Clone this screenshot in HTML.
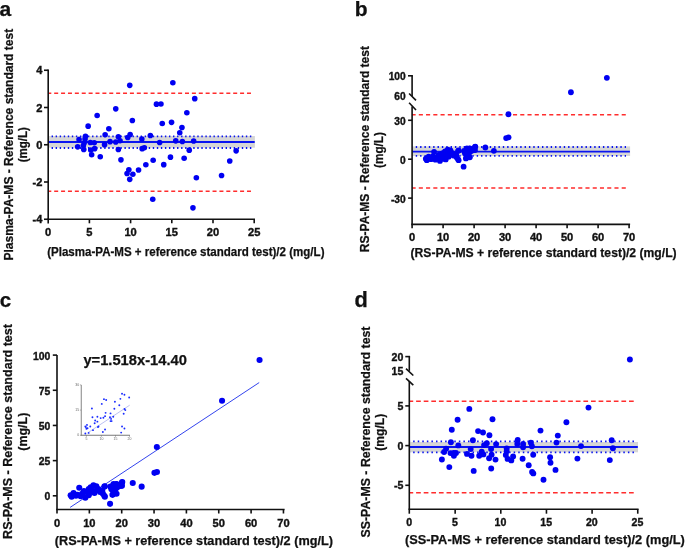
<!DOCTYPE html>
<html><head><meta charset="utf-8"><style>
html,body{margin:0;padding:0;background:#fff;width:685px;height:548px;overflow:hidden}
svg{display:block;will-change:transform}
text{font-family:"Liberation Sans", sans-serif}
</style></head><body>
<svg width="685" height="548" viewBox="0 0 685 548">
<rect width="685" height="548" fill="#fff"/>
<text x="-0.40" y="15.70" font-size="21" font-weight="bold" text-anchor="start" fill="#111" stroke="#111" stroke-width="0.25">a</text>
<text x="12.90" y="144.70" font-size="12.8" font-weight="bold" text-anchor="middle" fill="#111" stroke="#111" stroke-width="0.25" textLength="231.80" lengthAdjust="spacingAndGlyphs" transform="rotate(-90 12.90 144.70)">Plasma-PA-MS - Reference standard test</text>
<text x="26.60" y="144.70" font-size="12.8" font-weight="bold" text-anchor="middle" fill="#111" stroke="#111" stroke-width="0.25" textLength="35.20" lengthAdjust="spacingAndGlyphs" transform="rotate(-90 26.60 144.70)">(mg/L)</text>
<rect x="48.20" y="136.00" width="206.70" height="11.70" fill="#d6d6d6"/>
<line x1="48.20" y1="142.00" x2="254.70" y2="142.00" stroke="#0a14f0" stroke-width="2" stroke-linecap="butt"/>
<line x1="48.70" y1="136.30" x2="251.50" y2="136.30" stroke="#0a14f0" stroke-width="1.8" stroke-dasharray="1.4 2.647" stroke-dashoffset="1.15" stroke-linecap="butt"/>
<line x1="48.70" y1="148.00" x2="251.50" y2="148.00" stroke="#0a14f0" stroke-width="1.8" stroke-dasharray="1.4 2.647" stroke-dashoffset="1.15" stroke-linecap="butt"/>
<line x1="48.20" y1="93.30" x2="251.50" y2="93.30" stroke="#ff2d2d" stroke-width="1.6" stroke-dasharray="4 2.885" stroke-dashoffset="0.9" stroke-linecap="butt"/>
<line x1="48.20" y1="191.20" x2="251.50" y2="191.20" stroke="#ff2d2d" stroke-width="1.6" stroke-dasharray="4 2.885" stroke-dashoffset="0.9" stroke-linecap="butt"/>
<line x1="48.20" y1="69.50" x2="48.20" y2="223.50" stroke="#111" stroke-width="1.6" stroke-linecap="butt"/>
<line x1="47.40" y1="219.30" x2="255.00" y2="219.30" stroke="#111" stroke-width="1.6" stroke-linecap="butt"/>
<line x1="44.00" y1="70.25" x2="48.20" y2="70.25" stroke="#111" stroke-width="1.6" stroke-linecap="butt"/>
<text x="42.50" y="74.25" font-size="10.2" font-weight="bold" text-anchor="end" fill="#111" stroke="#111" stroke-width="0.35" textLength="6.18" lengthAdjust="spacingAndGlyphs">4</text>
<line x1="44.00" y1="107.50" x2="48.20" y2="107.50" stroke="#111" stroke-width="1.6" stroke-linecap="butt"/>
<text x="42.50" y="111.50" font-size="10.2" font-weight="bold" text-anchor="end" fill="#111" stroke="#111" stroke-width="0.35" textLength="6.18" lengthAdjust="spacingAndGlyphs">2</text>
<line x1="44.00" y1="144.75" x2="48.20" y2="144.75" stroke="#111" stroke-width="1.6" stroke-linecap="butt"/>
<text x="42.50" y="148.75" font-size="10.2" font-weight="bold" text-anchor="end" fill="#111" stroke="#111" stroke-width="0.35" textLength="6.18" lengthAdjust="spacingAndGlyphs">0</text>
<line x1="44.00" y1="182.00" x2="48.20" y2="182.00" stroke="#111" stroke-width="1.6" stroke-linecap="butt"/>
<text x="42.50" y="186.00" font-size="10.2" font-weight="bold" text-anchor="end" fill="#111" stroke="#111" stroke-width="0.35" textLength="9.88" lengthAdjust="spacingAndGlyphs">-2</text>
<line x1="44.00" y1="219.25" x2="48.20" y2="219.25" stroke="#111" stroke-width="1.6" stroke-linecap="butt"/>
<text x="42.50" y="223.25" font-size="10.2" font-weight="bold" text-anchor="end" fill="#111" stroke="#111" stroke-width="0.35" textLength="9.88" lengthAdjust="spacingAndGlyphs">-4</text>
<line x1="89.40" y1="219.30" x2="89.40" y2="223.30" stroke="#111" stroke-width="1.6" stroke-linecap="butt"/>
<line x1="130.60" y1="219.30" x2="130.60" y2="223.30" stroke="#111" stroke-width="1.6" stroke-linecap="butt"/>
<line x1="171.80" y1="219.30" x2="171.80" y2="223.30" stroke="#111" stroke-width="1.6" stroke-linecap="butt"/>
<line x1="213.00" y1="219.30" x2="213.00" y2="223.30" stroke="#111" stroke-width="1.6" stroke-linecap="butt"/>
<line x1="254.20" y1="219.30" x2="254.20" y2="223.30" stroke="#111" stroke-width="1.6" stroke-linecap="butt"/>
<text x="48.20" y="235.90" font-size="10.2" font-weight="bold" text-anchor="middle" fill="#111" stroke="#111" stroke-width="0.35" textLength="6.18" lengthAdjust="spacingAndGlyphs">0</text>
<text x="89.40" y="235.90" font-size="10.2" font-weight="bold" text-anchor="middle" fill="#111" stroke="#111" stroke-width="0.35" textLength="6.18" lengthAdjust="spacingAndGlyphs">5</text>
<text x="130.60" y="235.90" font-size="10.2" font-weight="bold" text-anchor="middle" fill="#111" stroke="#111" stroke-width="0.35" textLength="12.36" lengthAdjust="spacingAndGlyphs">10</text>
<text x="171.80" y="235.90" font-size="10.2" font-weight="bold" text-anchor="middle" fill="#111" stroke="#111" stroke-width="0.35" textLength="12.36" lengthAdjust="spacingAndGlyphs">15</text>
<text x="213.00" y="235.90" font-size="10.2" font-weight="bold" text-anchor="middle" fill="#111" stroke="#111" stroke-width="0.35" textLength="12.36" lengthAdjust="spacingAndGlyphs">20</text>
<text x="254.20" y="235.90" font-size="10.2" font-weight="bold" text-anchor="middle" fill="#111" stroke="#111" stroke-width="0.35" textLength="12.36" lengthAdjust="spacingAndGlyphs">25</text>
<text x="47.20" y="256.40" font-size="12.3" font-weight="bold" text-anchor="start" fill="#111" stroke="#111" stroke-width="0.25" textLength="277.30" lengthAdjust="spacingAndGlyphs">(Plasma-PA-MS + reference standard test)/2 (mg/L)</text>
<circle cx="129.75" cy="85.35" r="2.8" fill="#0000f2"/>
<circle cx="115.75" cy="108.85" r="2.8" fill="#0000f2"/>
<circle cx="97.15" cy="115.45" r="2.8" fill="#0000f2"/>
<circle cx="132.35" cy="120.55" r="2.8" fill="#0000f2"/>
<circle cx="88.15" cy="126.15" r="2.8" fill="#0000f2"/>
<circle cx="108.85" cy="128.75" r="2.8" fill="#0000f2"/>
<circle cx="105.15" cy="134.75" r="2.8" fill="#0000f2"/>
<circle cx="130.15" cy="134.45" r="2.8" fill="#0000f2"/>
<circle cx="127.75" cy="137.55" r="2.8" fill="#0000f2"/>
<circle cx="118.35" cy="136.75" r="2.8" fill="#0000f2"/>
<circle cx="85.45" cy="136.35" r="2.8" fill="#0000f2"/>
<circle cx="79.05" cy="139.55" r="2.8" fill="#0000f2"/>
<circle cx="85.05" cy="138.95" r="2.8" fill="#0000f2"/>
<circle cx="84.15" cy="142.95" r="2.8" fill="#0000f2"/>
<circle cx="90.35" cy="142.45" r="2.8" fill="#0000f2"/>
<circle cx="94.25" cy="142.75" r="2.8" fill="#0000f2"/>
<circle cx="104.55" cy="144.65" r="2.8" fill="#0000f2"/>
<circle cx="110.05" cy="141.65" r="2.8" fill="#0000f2"/>
<circle cx="115.75" cy="142.05" r="2.8" fill="#0000f2"/>
<circle cx="120.05" cy="140.75" r="2.8" fill="#0000f2"/>
<circle cx="77.65" cy="146.85" r="2.8" fill="#0000f2"/>
<circle cx="83.35" cy="145.55" r="2.8" fill="#0000f2"/>
<circle cx="83.75" cy="149.45" r="2.8" fill="#0000f2"/>
<circle cx="90.75" cy="149.95" r="2.8" fill="#0000f2"/>
<circle cx="94.65" cy="148.65" r="2.8" fill="#0000f2"/>
<circle cx="91.65" cy="154.75" r="2.8" fill="#0000f2"/>
<circle cx="100.25" cy="156.75" r="2.8" fill="#0000f2"/>
<circle cx="118.35" cy="149.45" r="2.8" fill="#0000f2"/>
<circle cx="120.95" cy="159.85" r="2.8" fill="#0000f2"/>
<circle cx="172.85" cy="82.75" r="2.8" fill="#0000f2"/>
<circle cx="194.75" cy="98.65" r="2.8" fill="#0000f2"/>
<circle cx="156.45" cy="104.15" r="2.8" fill="#0000f2"/>
<circle cx="160.95" cy="103.95" r="2.8" fill="#0000f2"/>
<circle cx="186.85" cy="112.75" r="2.8" fill="#0000f2"/>
<circle cx="162.25" cy="123.45" r="2.8" fill="#0000f2"/>
<circle cx="171.55" cy="122.35" r="2.8" fill="#0000f2"/>
<circle cx="181.95" cy="127.45" r="2.8" fill="#0000f2"/>
<circle cx="179.75" cy="132.75" r="2.8" fill="#0000f2"/>
<circle cx="150.35" cy="135.55" r="2.8" fill="#0000f2"/>
<circle cx="141.85" cy="138.95" r="2.8" fill="#0000f2"/>
<circle cx="159.65" cy="142.45" r="2.8" fill="#0000f2"/>
<circle cx="175.75" cy="140.85" r="2.8" fill="#0000f2"/>
<circle cx="182.35" cy="141.55" r="2.8" fill="#0000f2"/>
<circle cx="193.65" cy="140.95" r="2.8" fill="#0000f2"/>
<circle cx="142.15" cy="148.65" r="2.8" fill="#0000f2"/>
<circle cx="144.35" cy="147.75" r="2.8" fill="#0000f2"/>
<circle cx="189.25" cy="150.15" r="2.8" fill="#0000f2"/>
<circle cx="236.15" cy="150.85" r="2.8" fill="#0000f2"/>
<circle cx="128.85" cy="169.75" r="2.8" fill="#0000f2"/>
<circle cx="127.05" cy="173.55" r="2.8" fill="#0000f2"/>
<circle cx="132.85" cy="174.25" r="2.8" fill="#0000f2"/>
<circle cx="129.75" cy="179.35" r="2.8" fill="#0000f2"/>
<circle cx="138.55" cy="170.05" r="2.8" fill="#0000f2"/>
<circle cx="145.85" cy="164.75" r="2.8" fill="#0000f2"/>
<circle cx="153.15" cy="160.25" r="2.8" fill="#0000f2"/>
<circle cx="163.75" cy="164.65" r="2.8" fill="#0000f2"/>
<circle cx="170.45" cy="157.15" r="2.8" fill="#0000f2"/>
<circle cx="184.15" cy="158.25" r="2.8" fill="#0000f2"/>
<circle cx="196.35" cy="177.75" r="2.8" fill="#0000f2"/>
<circle cx="221.55" cy="175.55" r="2.8" fill="#0000f2"/>
<circle cx="229.75" cy="160.95" r="2.8" fill="#0000f2"/>
<circle cx="152.75" cy="199.25" r="2.8" fill="#0000f2"/>
<circle cx="192.95" cy="207.85" r="2.8" fill="#0000f2"/>
<text x="354.80" y="15.60" font-size="21" font-weight="bold" text-anchor="start" fill="#111" stroke="#111" stroke-width="0.25">b</text>
<text x="368.60" y="149.10" font-size="12.9" font-weight="bold" text-anchor="middle" fill="#111" stroke="#111" stroke-width="0.25" textLength="206.20" lengthAdjust="spacingAndGlyphs" transform="rotate(-90 368.60 149.10)">RS-PA-MS - Reference standard test</text>
<text x="383.00" y="150.00" font-size="12.9" font-weight="bold" text-anchor="middle" fill="#111" stroke="#111" stroke-width="0.25" textLength="36.00" lengthAdjust="spacingAndGlyphs" transform="rotate(-90 383.00 150.00)">(mg/L)</text>
<rect x="412.10" y="146.40" width="218.00" height="9.60" fill="#d6d6d6"/>
<line x1="412.10" y1="151.60" x2="629.90" y2="151.60" stroke="#0a14f0" stroke-width="1.8" stroke-linecap="butt"/>
<line x1="412.60" y1="147.00" x2="626.00" y2="147.00" stroke="#0a14f0" stroke-width="1.8" stroke-dasharray="1.4 2.953" stroke-dashoffset="1.2" stroke-linecap="butt"/>
<line x1="412.60" y1="155.90" x2="626.00" y2="155.90" stroke="#0a14f0" stroke-width="1.8" stroke-dasharray="1.4 2.953" stroke-dashoffset="1.2" stroke-linecap="butt"/>
<line x1="412.10" y1="114.80" x2="626.20" y2="114.80" stroke="#ff2d2d" stroke-width="1.6" stroke-dasharray="4.1 3.146" stroke-dashoffset="0.55" stroke-linecap="butt"/>
<line x1="412.10" y1="188.00" x2="626.20" y2="188.00" stroke="#ff2d2d" stroke-width="1.6" stroke-dasharray="4.1 3.146" stroke-dashoffset="0.55" stroke-linecap="butt"/>
<line x1="412.10" y1="75.80" x2="412.10" y2="96.00" stroke="#111" stroke-width="1.6" stroke-linecap="butt"/>
<line x1="409.10" y1="93.50" x2="416.00" y2="100.40" stroke="#111" stroke-width="1.6" stroke-linecap="butt"/>
<line x1="409.10" y1="102.70" x2="416.00" y2="110.00" stroke="#111" stroke-width="1.6" stroke-linecap="butt"/>
<line x1="412.10" y1="106.50" x2="412.10" y2="228.20" stroke="#111" stroke-width="1.6" stroke-linecap="butt"/>
<line x1="408.00" y1="75.80" x2="412.90" y2="75.80" stroke="#111" stroke-width="1.6" stroke-linecap="butt"/>
<line x1="408.10" y1="120.29" x2="412.10" y2="120.29" stroke="#111" stroke-width="1.6" stroke-linecap="butt"/>
<line x1="408.10" y1="159.20" x2="412.10" y2="159.20" stroke="#111" stroke-width="1.6" stroke-linecap="butt"/>
<line x1="408.10" y1="198.11" x2="412.10" y2="198.11" stroke="#111" stroke-width="1.6" stroke-linecap="butt"/>
<line x1="411.30" y1="224.40" x2="630.10" y2="224.40" stroke="#111" stroke-width="1.6" stroke-linecap="butt"/>
<line x1="443.10" y1="224.40" x2="443.10" y2="228.20" stroke="#111" stroke-width="1.6" stroke-linecap="butt"/>
<line x1="474.10" y1="224.40" x2="474.10" y2="228.20" stroke="#111" stroke-width="1.6" stroke-linecap="butt"/>
<line x1="505.10" y1="224.40" x2="505.10" y2="228.20" stroke="#111" stroke-width="1.6" stroke-linecap="butt"/>
<line x1="536.10" y1="224.40" x2="536.10" y2="228.20" stroke="#111" stroke-width="1.6" stroke-linecap="butt"/>
<line x1="567.10" y1="224.40" x2="567.10" y2="228.20" stroke="#111" stroke-width="1.6" stroke-linecap="butt"/>
<line x1="598.10" y1="224.40" x2="598.10" y2="228.20" stroke="#111" stroke-width="1.6" stroke-linecap="butt"/>
<line x1="629.10" y1="224.40" x2="629.10" y2="228.20" stroke="#111" stroke-width="1.6" stroke-linecap="butt"/>
<text x="405.70" y="80.20" font-size="10.2" font-weight="bold" text-anchor="end" fill="#111" stroke="#111" stroke-width="0.35" textLength="17.01" lengthAdjust="spacingAndGlyphs">100</text>
<text x="405.70" y="99.50" font-size="10.2" font-weight="bold" text-anchor="end" fill="#111" stroke="#111" stroke-width="0.35" textLength="11.34" lengthAdjust="spacingAndGlyphs">60</text>
<text x="405.70" y="124.79" font-size="10.2" font-weight="bold" text-anchor="end" fill="#111" stroke="#111" stroke-width="0.35" textLength="11.34" lengthAdjust="spacingAndGlyphs">30</text>
<text x="405.70" y="163.70" font-size="10.2" font-weight="bold" text-anchor="end" fill="#111" stroke="#111" stroke-width="0.35" textLength="5.67" lengthAdjust="spacingAndGlyphs">0</text>
<text x="405.70" y="202.61" font-size="10.2" font-weight="bold" text-anchor="end" fill="#111" stroke="#111" stroke-width="0.35" textLength="14.74" lengthAdjust="spacingAndGlyphs">-30</text>
<text x="412.10" y="240.80" font-size="10.2" font-weight="bold" text-anchor="middle" fill="#111" stroke="#111" stroke-width="0.35" textLength="6.18" lengthAdjust="spacingAndGlyphs">0</text>
<text x="443.10" y="240.80" font-size="10.2" font-weight="bold" text-anchor="middle" fill="#111" stroke="#111" stroke-width="0.35" textLength="12.36" lengthAdjust="spacingAndGlyphs">10</text>
<text x="474.10" y="240.80" font-size="10.2" font-weight="bold" text-anchor="middle" fill="#111" stroke="#111" stroke-width="0.35" textLength="12.36" lengthAdjust="spacingAndGlyphs">20</text>
<text x="505.10" y="240.80" font-size="10.2" font-weight="bold" text-anchor="middle" fill="#111" stroke="#111" stroke-width="0.35" textLength="12.36" lengthAdjust="spacingAndGlyphs">30</text>
<text x="536.10" y="240.80" font-size="10.2" font-weight="bold" text-anchor="middle" fill="#111" stroke="#111" stroke-width="0.35" textLength="12.36" lengthAdjust="spacingAndGlyphs">40</text>
<text x="567.10" y="240.80" font-size="10.2" font-weight="bold" text-anchor="middle" fill="#111" stroke="#111" stroke-width="0.35" textLength="12.36" lengthAdjust="spacingAndGlyphs">50</text>
<text x="598.10" y="240.80" font-size="10.2" font-weight="bold" text-anchor="middle" fill="#111" stroke="#111" stroke-width="0.35" textLength="12.36" lengthAdjust="spacingAndGlyphs">60</text>
<text x="629.10" y="240.80" font-size="10.2" font-weight="bold" text-anchor="middle" fill="#111" stroke="#111" stroke-width="0.35" textLength="12.36" lengthAdjust="spacingAndGlyphs">70</text>
<text x="410.50" y="257.00" font-size="12.5" font-weight="bold" text-anchor="start" fill="#111" stroke="#111" stroke-width="0.25" textLength="266.10" lengthAdjust="spacingAndGlyphs">(RS-PA-MS + reference standard test)/2 (mg/L)</text>
<circle cx="425.84" cy="158.75" r="2.9" fill="#0000f2"/>
<circle cx="428.62" cy="156.63" r="2.9" fill="#0000f2"/>
<circle cx="426.80" cy="160.14" r="2.9" fill="#0000f2"/>
<circle cx="430.92" cy="159.22" r="2.9" fill="#0000f2"/>
<circle cx="434.08" cy="151.84" r="2.9" fill="#0000f2"/>
<circle cx="435.42" cy="159.68" r="2.9" fill="#0000f2"/>
<circle cx="438.59" cy="154.88" r="2.9" fill="#0000f2"/>
<circle cx="439.93" cy="160.97" r="2.9" fill="#0000f2"/>
<circle cx="443.19" cy="158.75" r="2.9" fill="#0000f2"/>
<circle cx="445.01" cy="151.38" r="2.9" fill="#0000f2"/>
<circle cx="447.69" cy="149.63" r="2.9" fill="#0000f2"/>
<circle cx="450.47" cy="150.46" r="2.9" fill="#0000f2"/>
<circle cx="444.05" cy="155.71" r="2.9" fill="#0000f2"/>
<circle cx="448.65" cy="156.63" r="2.9" fill="#0000f2"/>
<circle cx="452.29" cy="153.13" r="2.9" fill="#0000f2"/>
<circle cx="455.83" cy="155.71" r="2.9" fill="#0000f2"/>
<circle cx="458.61" cy="160.14" r="2.9" fill="#0000f2"/>
<circle cx="458.61" cy="150.46" r="2.9" fill="#0000f2"/>
<circle cx="463.60" cy="166.68" r="2.9" fill="#0000f2"/>
<circle cx="465.90" cy="158.39" r="2.9" fill="#0000f2"/>
<circle cx="468.58" cy="156.63" r="2.9" fill="#0000f2"/>
<circle cx="466.76" cy="149.63" r="2.9" fill="#0000f2"/>
<circle cx="470.40" cy="151.38" r="2.9" fill="#0000f2"/>
<circle cx="469.54" cy="148.71" r="2.9" fill="#0000f2"/>
<circle cx="475.00" cy="146.96" r="2.9" fill="#0000f2"/>
<circle cx="475.00" cy="150.09" r="2.9" fill="#0000f2"/>
<circle cx="506.14" cy="138.11" r="2.9" fill="#0000f2"/>
<circle cx="508.54" cy="137.37" r="2.9" fill="#0000f2"/>
<circle cx="485.35" cy="147.51" r="2.9" fill="#0000f2"/>
<circle cx="493.88" cy="150.83" r="2.9" fill="#0000f2"/>
<circle cx="475.29" cy="146.59" r="2.9" fill="#0000f2"/>
<circle cx="474.23" cy="149.81" r="2.9" fill="#0000f2"/>
<circle cx="466.95" cy="148.43" r="2.9" fill="#0000f2"/>
<circle cx="469.83" cy="148.43" r="2.9" fill="#0000f2"/>
<circle cx="463.98" cy="150.83" r="2.9" fill="#0000f2"/>
<circle cx="469.35" cy="152.21" r="2.9" fill="#0000f2"/>
<circle cx="458.13" cy="150.83" r="2.9" fill="#0000f2"/>
<circle cx="456.12" cy="154.51" r="2.9" fill="#0000f2"/>
<circle cx="466.47" cy="157.83" r="2.9" fill="#0000f2"/>
<circle cx="469.83" cy="157.37" r="2.9" fill="#0000f2"/>
<circle cx="458.13" cy="159.31" r="2.9" fill="#0000f2"/>
<circle cx="606.86" cy="77.81" r="2.9" fill="#0000f2"/>
<circle cx="570.92" cy="92.27" r="2.9" fill="#0000f2"/>
<circle cx="508.44" cy="114.23" r="2.9" fill="#0000f2"/>
<circle cx="432.26" cy="158.39" r="2.9" fill="#0000f2"/>
<circle cx="436.77" cy="157.46" r="2.9" fill="#0000f2"/>
<circle cx="439.54" cy="155.71" r="2.9" fill="#0000f2"/>
<circle cx="443.19" cy="157.46" r="2.9" fill="#0000f2"/>
<circle cx="447.69" cy="154.88" r="2.9" fill="#0000f2"/>
<circle cx="451.33" cy="153.96" r="2.9" fill="#0000f2"/>
<circle cx="454.01" cy="155.71" r="2.9" fill="#0000f2"/>
<circle cx="456.79" cy="157.46" r="2.9" fill="#0000f2"/>
<circle cx="443.19" cy="153.13" r="2.9" fill="#0000f2"/>
<circle cx="464.94" cy="153.13" r="2.9" fill="#0000f2"/>
<circle cx="468.58" cy="153.13" r="2.9" fill="#0000f2"/>
<circle cx="472.22" cy="150.46" r="2.9" fill="#0000f2"/>
<circle cx="466.76" cy="151.38" r="2.9" fill="#0000f2"/>
<circle cx="432.95" cy="156.25" r="2.9" fill="#0000f2"/>
<circle cx="438.25" cy="157.05" r="2.9" fill="#0000f2"/>
<circle cx="441.75" cy="153.55" r="2.9" fill="#0000f2"/>
<circle cx="447.25" cy="154.45" r="2.9" fill="#0000f2"/>
<circle cx="445.75" cy="159.45" r="2.9" fill="#0000f2"/>
<circle cx="451.05" cy="154.75" r="2.9" fill="#0000f2"/>
<text x="-0.30" y="306.80" font-size="20.5" font-weight="bold" text-anchor="start" fill="#111" stroke="#111" stroke-width="0.25">c</text>
<text x="11.70" y="431.50" font-size="13.4" font-weight="bold" text-anchor="middle" fill="#111" stroke="#111" stroke-width="0.25" textLength="214.80" lengthAdjust="spacingAndGlyphs" transform="rotate(-90 11.70 431.50)">RS-PA-MS - Reference standard test</text>
<text x="27.00" y="431.70" font-size="13.4" font-weight="bold" text-anchor="middle" fill="#111" stroke="#111" stroke-width="0.25" textLength="38.00" lengthAdjust="spacingAndGlyphs" transform="rotate(-90 27.00 431.70)">(mg/L)</text>
<line x1="57.00" y1="355.10" x2="57.00" y2="513.50" stroke="#111" stroke-width="1.6" stroke-linecap="butt"/>
<line x1="56.20" y1="509.50" x2="284.60" y2="509.50" stroke="#111" stroke-width="1.6" stroke-linecap="butt"/>
<line x1="52.80" y1="355.10" x2="57.00" y2="355.10" stroke="#111" stroke-width="1.6" stroke-linecap="butt"/>
<text x="50.40" y="359.50" font-size="10.2" font-weight="bold" text-anchor="end" fill="#111" stroke="#111" stroke-width="0.35" textLength="17.35" lengthAdjust="spacingAndGlyphs">100</text>
<line x1="52.80" y1="390.27" x2="57.00" y2="390.27" stroke="#111" stroke-width="1.6" stroke-linecap="butt"/>
<text x="50.40" y="394.67" font-size="10.2" font-weight="bold" text-anchor="end" fill="#111" stroke="#111" stroke-width="0.35" textLength="11.57" lengthAdjust="spacingAndGlyphs">75</text>
<line x1="52.80" y1="425.45" x2="57.00" y2="425.45" stroke="#111" stroke-width="1.6" stroke-linecap="butt"/>
<text x="50.40" y="429.85" font-size="10.2" font-weight="bold" text-anchor="end" fill="#111" stroke="#111" stroke-width="0.35" textLength="11.57" lengthAdjust="spacingAndGlyphs">50</text>
<line x1="52.80" y1="460.62" x2="57.00" y2="460.62" stroke="#111" stroke-width="1.6" stroke-linecap="butt"/>
<text x="50.40" y="465.02" font-size="10.2" font-weight="bold" text-anchor="end" fill="#111" stroke="#111" stroke-width="0.35" textLength="11.57" lengthAdjust="spacingAndGlyphs">25</text>
<line x1="52.80" y1="495.80" x2="57.00" y2="495.80" stroke="#111" stroke-width="1.6" stroke-linecap="butt"/>
<text x="50.40" y="500.20" font-size="10.2" font-weight="bold" text-anchor="end" fill="#111" stroke="#111" stroke-width="0.35" textLength="5.78" lengthAdjust="spacingAndGlyphs">0</text>
<line x1="89.35" y1="509.50" x2="89.35" y2="513.50" stroke="#111" stroke-width="1.6" stroke-linecap="butt"/>
<line x1="121.70" y1="509.50" x2="121.70" y2="513.50" stroke="#111" stroke-width="1.6" stroke-linecap="butt"/>
<line x1="154.05" y1="509.50" x2="154.05" y2="513.50" stroke="#111" stroke-width="1.6" stroke-linecap="butt"/>
<line x1="186.40" y1="509.50" x2="186.40" y2="513.50" stroke="#111" stroke-width="1.6" stroke-linecap="butt"/>
<line x1="218.75" y1="509.50" x2="218.75" y2="513.50" stroke="#111" stroke-width="1.6" stroke-linecap="butt"/>
<line x1="251.10" y1="509.50" x2="251.10" y2="513.50" stroke="#111" stroke-width="1.6" stroke-linecap="butt"/>
<line x1="283.45" y1="509.50" x2="283.45" y2="513.50" stroke="#111" stroke-width="1.6" stroke-linecap="butt"/>
<text x="57.00" y="526.90" font-size="10.2" font-weight="bold" text-anchor="middle" fill="#111" stroke="#111" stroke-width="0.35" textLength="6.18" lengthAdjust="spacingAndGlyphs">0</text>
<text x="89.35" y="526.90" font-size="10.2" font-weight="bold" text-anchor="middle" fill="#111" stroke="#111" stroke-width="0.35" textLength="12.36" lengthAdjust="spacingAndGlyphs">10</text>
<text x="121.70" y="526.90" font-size="10.2" font-weight="bold" text-anchor="middle" fill="#111" stroke="#111" stroke-width="0.35" textLength="12.36" lengthAdjust="spacingAndGlyphs">20</text>
<text x="154.05" y="526.90" font-size="10.2" font-weight="bold" text-anchor="middle" fill="#111" stroke="#111" stroke-width="0.35" textLength="12.36" lengthAdjust="spacingAndGlyphs">30</text>
<text x="186.40" y="526.90" font-size="10.2" font-weight="bold" text-anchor="middle" fill="#111" stroke="#111" stroke-width="0.35" textLength="12.36" lengthAdjust="spacingAndGlyphs">40</text>
<text x="218.75" y="526.90" font-size="10.2" font-weight="bold" text-anchor="middle" fill="#111" stroke="#111" stroke-width="0.35" textLength="12.36" lengthAdjust="spacingAndGlyphs">50</text>
<text x="251.10" y="526.90" font-size="10.2" font-weight="bold" text-anchor="middle" fill="#111" stroke="#111" stroke-width="0.35" textLength="12.36" lengthAdjust="spacingAndGlyphs">60</text>
<text x="283.45" y="526.90" font-size="10.2" font-weight="bold" text-anchor="middle" fill="#111" stroke="#111" stroke-width="0.35" textLength="12.36" lengthAdjust="spacingAndGlyphs">70</text>
<text x="54.80" y="545.20" font-size="12.9" font-weight="bold" text-anchor="start" fill="#111" stroke="#111" stroke-width="0.25" textLength="278.20" lengthAdjust="spacingAndGlyphs">(RS-PA-MS + reference standard test)/2 (mg/L)</text>
<text x="83.40" y="364.60" font-size="14.5" font-weight="bold" text-anchor="start" fill="#111" stroke="#111" stroke-width="0.25" textLength="103.50" lengthAdjust="spacingAndGlyphs">y=1.518x-14.40</text>
<line x1="70.13" y1="507.39" x2="259.19" y2="382.57" stroke="#3344ee" stroke-width="1.0" stroke-linecap="butt"/>
<circle cx="70.65" cy="495.23" r="3.05" fill="#0000f2"/>
<circle cx="73.55" cy="492.93" r="3.05" fill="#0000f2"/>
<circle cx="71.65" cy="496.73" r="3.05" fill="#0000f2"/>
<circle cx="75.95" cy="495.73" r="3.05" fill="#0000f2"/>
<circle cx="79.25" cy="487.73" r="3.05" fill="#0000f2"/>
<circle cx="80.65" cy="496.23" r="3.05" fill="#0000f2"/>
<circle cx="83.95" cy="491.03" r="3.05" fill="#0000f2"/>
<circle cx="85.35" cy="497.63" r="3.05" fill="#0000f2"/>
<circle cx="88.75" cy="495.23" r="3.05" fill="#0000f2"/>
<circle cx="90.65" cy="487.23" r="3.05" fill="#0000f2"/>
<circle cx="93.45" cy="485.33" r="3.05" fill="#0000f2"/>
<circle cx="96.35" cy="486.23" r="3.05" fill="#0000f2"/>
<circle cx="89.65" cy="491.93" r="3.05" fill="#0000f2"/>
<circle cx="94.45" cy="492.93" r="3.05" fill="#0000f2"/>
<circle cx="98.25" cy="489.13" r="3.05" fill="#0000f2"/>
<circle cx="101.95" cy="491.93" r="3.05" fill="#0000f2"/>
<circle cx="104.85" cy="496.73" r="3.05" fill="#0000f2"/>
<circle cx="104.85" cy="486.23" r="3.05" fill="#0000f2"/>
<circle cx="110.05" cy="503.83" r="3.05" fill="#0000f2"/>
<circle cx="112.45" cy="494.83" r="3.05" fill="#0000f2"/>
<circle cx="115.25" cy="492.93" r="3.05" fill="#0000f2"/>
<circle cx="113.35" cy="485.33" r="3.05" fill="#0000f2"/>
<circle cx="117.15" cy="487.23" r="3.05" fill="#0000f2"/>
<circle cx="116.25" cy="484.33" r="3.05" fill="#0000f2"/>
<circle cx="121.95" cy="482.43" r="3.05" fill="#0000f2"/>
<circle cx="121.95" cy="485.83" r="3.05" fill="#0000f2"/>
<circle cx="154.45" cy="472.83" r="3.05" fill="#0000f2"/>
<circle cx="156.95" cy="472.03" r="3.05" fill="#0000f2"/>
<circle cx="132.75" cy="483.03" r="3.05" fill="#0000f2"/>
<circle cx="141.65" cy="486.63" r="3.05" fill="#0000f2"/>
<circle cx="122.25" cy="482.03" r="3.05" fill="#0000f2"/>
<circle cx="121.15" cy="485.53" r="3.05" fill="#0000f2"/>
<circle cx="113.55" cy="484.03" r="3.05" fill="#0000f2"/>
<circle cx="116.55" cy="484.03" r="3.05" fill="#0000f2"/>
<circle cx="110.45" cy="486.63" r="3.05" fill="#0000f2"/>
<circle cx="116.05" cy="488.13" r="3.05" fill="#0000f2"/>
<circle cx="104.35" cy="486.63" r="3.05" fill="#0000f2"/>
<circle cx="102.25" cy="490.63" r="3.05" fill="#0000f2"/>
<circle cx="113.05" cy="494.23" r="3.05" fill="#0000f2"/>
<circle cx="116.55" cy="493.73" r="3.05" fill="#0000f2"/>
<circle cx="104.35" cy="495.83" r="3.05" fill="#0000f2"/>
<circle cx="259.55" cy="360.03" r="3.05" fill="#0000f2"/>
<circle cx="222.05" cy="400.73" r="3.05" fill="#0000f2"/>
<circle cx="156.85" cy="446.93" r="3.05" fill="#0000f2"/>
<circle cx="77.35" cy="494.83" r="3.05" fill="#0000f2"/>
<circle cx="82.05" cy="493.83" r="3.05" fill="#0000f2"/>
<circle cx="84.95" cy="491.93" r="3.05" fill="#0000f2"/>
<circle cx="88.75" cy="493.83" r="3.05" fill="#0000f2"/>
<circle cx="93.45" cy="491.03" r="3.05" fill="#0000f2"/>
<circle cx="97.25" cy="490.03" r="3.05" fill="#0000f2"/>
<circle cx="100.05" cy="491.93" r="3.05" fill="#0000f2"/>
<circle cx="102.95" cy="493.83" r="3.05" fill="#0000f2"/>
<circle cx="88.75" cy="489.13" r="3.05" fill="#0000f2"/>
<circle cx="111.45" cy="489.13" r="3.05" fill="#0000f2"/>
<circle cx="115.25" cy="489.13" r="3.05" fill="#0000f2"/>
<circle cx="119.05" cy="486.23" r="3.05" fill="#0000f2"/>
<circle cx="113.35" cy="487.23" r="3.05" fill="#0000f2"/>
<line x1="81.30" y1="384.90" x2="81.30" y2="435.80" stroke="#999" stroke-width="1.2" stroke-linecap="butt"/>
<line x1="80.80" y1="435.30" x2="129.90" y2="435.30" stroke="#777" stroke-width="1.1" stroke-linecap="butt"/>
<line x1="79.90" y1="384.90" x2="81.30" y2="384.90" stroke="#999" stroke-width="0.8" stroke-linecap="butt"/>
<line x1="79.90" y1="410.10" x2="81.30" y2="410.10" stroke="#999" stroke-width="0.8" stroke-linecap="butt"/>
<line x1="79.90" y1="435.30" x2="81.30" y2="435.30" stroke="#999" stroke-width="0.8" stroke-linecap="butt"/>
<line x1="86.40" y1="435.30" x2="86.40" y2="436.60" stroke="#777" stroke-width="0.8" stroke-linecap="butt"/>
<line x1="101.40" y1="435.30" x2="101.40" y2="436.60" stroke="#777" stroke-width="0.8" stroke-linecap="butt"/>
<line x1="115.50" y1="435.30" x2="115.50" y2="436.60" stroke="#777" stroke-width="0.8" stroke-linecap="butt"/>
<line x1="129.50" y1="435.30" x2="129.50" y2="436.60" stroke="#777" stroke-width="0.8" stroke-linecap="butt"/>
<text x="79.20" y="386.40" font-size="3.2" font-weight="normal" text-anchor="end" fill="#666" textLength="3.88" lengthAdjust="spacingAndGlyphs">30</text>
<text x="79.20" y="411.40" font-size="3.2" font-weight="normal" text-anchor="end" fill="#666" textLength="3.88" lengthAdjust="spacingAndGlyphs">15</text>
<text x="79.20" y="436.40" font-size="3.2" font-weight="normal" text-anchor="end" fill="#666" textLength="1.94" lengthAdjust="spacingAndGlyphs">0</text>
<text x="86.40" y="440.20" font-size="3.2" font-weight="normal" text-anchor="middle" fill="#666" textLength="1.94" lengthAdjust="spacingAndGlyphs">5</text>
<text x="101.40" y="440.20" font-size="3.2" font-weight="normal" text-anchor="middle" fill="#666" textLength="3.88" lengthAdjust="spacingAndGlyphs">10</text>
<text x="115.50" y="440.20" font-size="3.2" font-weight="normal" text-anchor="middle" fill="#666" textLength="3.88" lengthAdjust="spacingAndGlyphs">15</text>
<text x="129.50" y="440.20" font-size="3.2" font-weight="normal" text-anchor="middle" fill="#666" textLength="3.88" lengthAdjust="spacingAndGlyphs">20</text>
<line x1="88.07" y1="432.58" x2="129.70" y2="405.19" stroke="#aab0ee" stroke-width="0.8" stroke-linecap="butt"/>
<circle cx="85.34" cy="433.46" r="0.95" fill="#1a2cff"/>
<circle cx="88.62" cy="432.91" r="0.95" fill="#1a2cff"/>
<circle cx="93.00" cy="430.17" r="0.95" fill="#1a2cff"/>
<circle cx="90.27" cy="426.55" r="0.95" fill="#1a2cff"/>
<circle cx="85.34" cy="426.55" r="0.95" fill="#1a2cff"/>
<circle cx="86.98" cy="424.91" r="0.95" fill="#1a2cff"/>
<circle cx="86.43" cy="428.75" r="0.95" fill="#1a2cff"/>
<circle cx="85.88" cy="427.10" r="0.95" fill="#1a2cff"/>
<circle cx="87.53" cy="428.20" r="0.95" fill="#1a2cff"/>
<circle cx="92.46" cy="417.24" r="0.95" fill="#1a2cff"/>
<circle cx="91.91" cy="408.48" r="0.95" fill="#1a2cff"/>
<circle cx="95.19" cy="420.53" r="0.95" fill="#1a2cff"/>
<circle cx="94.65" cy="423.27" r="0.95" fill="#1a2cff"/>
<circle cx="97.39" cy="421.63" r="0.95" fill="#1a2cff"/>
<circle cx="97.39" cy="416.70" r="0.95" fill="#1a2cff"/>
<circle cx="98.48" cy="426.55" r="0.95" fill="#1a2cff"/>
<circle cx="97.93" cy="427.10" r="0.95" fill="#1a2cff"/>
<circle cx="100.67" cy="418.12" r="0.95" fill="#1a2cff"/>
<circle cx="101.77" cy="403.88" r="0.95" fill="#1a2cff"/>
<circle cx="103.41" cy="417.79" r="0.95" fill="#1a2cff"/>
<circle cx="103.96" cy="399.17" r="0.95" fill="#1a2cff"/>
<circle cx="106.15" cy="400.05" r="0.95" fill="#1a2cff"/>
<circle cx="105.05" cy="416.15" r="0.95" fill="#1a2cff"/>
<circle cx="105.60" cy="412.86" r="0.95" fill="#1a2cff"/>
<circle cx="102.86" cy="432.03" r="0.95" fill="#1a2cff"/>
<circle cx="105.05" cy="429.51" r="0.95" fill="#1a2cff"/>
<circle cx="109.98" cy="417.24" r="0.95" fill="#1a2cff"/>
<circle cx="110.53" cy="413.41" r="0.95" fill="#1a2cff"/>
<circle cx="111.08" cy="418.89" r="0.95" fill="#1a2cff"/>
<circle cx="110.53" cy="421.08" r="0.95" fill="#1a2cff"/>
<circle cx="111.63" cy="421.08" r="0.95" fill="#1a2cff"/>
<circle cx="113.27" cy="416.70" r="0.95" fill="#1a2cff"/>
<circle cx="114.36" cy="408.70" r="0.95" fill="#1a2cff"/>
<circle cx="114.91" cy="401.69" r="0.95" fill="#1a2cff"/>
<circle cx="119.29" cy="405.19" r="0.95" fill="#1a2cff"/>
<circle cx="120.39" cy="398.84" r="0.95" fill="#1a2cff"/>
<circle cx="122.03" cy="393.69" r="0.95" fill="#1a2cff"/>
<circle cx="124.44" cy="394.79" r="0.95" fill="#1a2cff"/>
<circle cx="129.15" cy="397.53" r="0.95" fill="#1a2cff"/>
<circle cx="124.55" cy="409.03" r="0.95" fill="#1a2cff"/>
<circle cx="125.32" cy="410.12" r="0.95" fill="#1a2cff"/>
<circle cx="123.68" cy="413.74" r="0.95" fill="#1a2cff"/>
<circle cx="122.03" cy="426.55" r="0.95" fill="#1a2cff"/>
<circle cx="124.44" cy="428.53" r="0.95" fill="#1a2cff"/>
<circle cx="121.16" cy="432.58" r="0.95" fill="#1a2cff"/>
<text x="354.40" y="306.50" font-size="21.8" font-weight="bold" text-anchor="start" fill="#111" stroke="#111" stroke-width="0.25">d</text>
<text x="370.20" y="432.00" font-size="13.2" font-weight="bold" text-anchor="middle" fill="#111" stroke="#111" stroke-width="0.25" textLength="211.00" lengthAdjust="spacingAndGlyphs" transform="rotate(-90 370.20 432.00)">SS-PA-MS - Reference standard test</text>
<text x="384.40" y="432.20" font-size="13.2" font-weight="bold" text-anchor="middle" fill="#111" stroke="#111" stroke-width="0.25" textLength="37.00" lengthAdjust="spacingAndGlyphs" transform="rotate(-90 384.40 432.20)">(mg/L)</text>
<rect x="409.30" y="442.00" width="228.70" height="10.30" fill="#d6d6d6"/>
<line x1="409.30" y1="447.00" x2="637.80" y2="447.00" stroke="#0a14f0" stroke-width="1.8" stroke-linecap="butt"/>
<line x1="409.80" y1="441.40" x2="634.50" y2="441.40" stroke="#0a14f0" stroke-width="1.8" stroke-dasharray="1.5 3.069" stroke-dashoffset="1.22" stroke-linecap="butt"/>
<line x1="409.80" y1="452.40" x2="634.50" y2="452.40" stroke="#0a14f0" stroke-width="1.8" stroke-dasharray="1.5 3.069" stroke-dashoffset="1.22" stroke-linecap="butt"/>
<line x1="409.30" y1="401.20" x2="634.10" y2="401.20" stroke="#ff2d2d" stroke-width="1.6" stroke-dasharray="4.7 2.904" stroke-dashoffset="0.8" stroke-linecap="butt"/>
<line x1="409.30" y1="492.70" x2="634.10" y2="492.70" stroke="#ff2d2d" stroke-width="1.6" stroke-dasharray="4.7 2.904" stroke-dashoffset="0.8" stroke-linecap="butt"/>
<line x1="409.30" y1="356.60" x2="409.30" y2="370.80" stroke="#111" stroke-width="1.6" stroke-linecap="butt"/>
<line x1="406.00" y1="368.70" x2="413.30" y2="375.50" stroke="#111" stroke-width="1.6" stroke-linecap="butt"/>
<line x1="406.00" y1="378.30" x2="413.30" y2="385.10" stroke="#111" stroke-width="1.6" stroke-linecap="butt"/>
<line x1="409.30" y1="381.20" x2="409.30" y2="513.70" stroke="#111" stroke-width="1.6" stroke-linecap="butt"/>
<line x1="405.30" y1="356.60" x2="410.10" y2="356.60" stroke="#111" stroke-width="1.6" stroke-linecap="butt"/>
<line x1="405.30" y1="405.90" x2="409.30" y2="405.90" stroke="#111" stroke-width="1.6" stroke-linecap="butt"/>
<line x1="405.30" y1="445.60" x2="409.30" y2="445.60" stroke="#111" stroke-width="1.6" stroke-linecap="butt"/>
<line x1="405.30" y1="485.30" x2="409.30" y2="485.30" stroke="#111" stroke-width="1.6" stroke-linecap="butt"/>
<line x1="408.50" y1="509.30" x2="638.60" y2="509.30" stroke="#111" stroke-width="1.6" stroke-linecap="butt"/>
<line x1="455.15" y1="509.30" x2="455.15" y2="513.70" stroke="#111" stroke-width="1.6" stroke-linecap="butt"/>
<line x1="500.80" y1="509.30" x2="500.80" y2="513.70" stroke="#111" stroke-width="1.6" stroke-linecap="butt"/>
<line x1="546.45" y1="509.30" x2="546.45" y2="513.70" stroke="#111" stroke-width="1.6" stroke-linecap="butt"/>
<line x1="592.10" y1="509.30" x2="592.10" y2="513.70" stroke="#111" stroke-width="1.6" stroke-linecap="butt"/>
<line x1="637.75" y1="509.30" x2="637.75" y2="513.70" stroke="#111" stroke-width="1.6" stroke-linecap="butt"/>
<text x="403.40" y="360.80" font-size="10.2" font-weight="bold" text-anchor="end" fill="#111" stroke="#111" stroke-width="0.35" textLength="11.80" lengthAdjust="spacingAndGlyphs">20</text>
<text x="403.40" y="374.90" font-size="10.2" font-weight="bold" text-anchor="end" fill="#111" stroke="#111" stroke-width="0.35" textLength="11.80" lengthAdjust="spacingAndGlyphs">15</text>
<text x="403.40" y="410.00" font-size="10.2" font-weight="bold" text-anchor="end" fill="#111" stroke="#111" stroke-width="0.35" textLength="5.90" lengthAdjust="spacingAndGlyphs">5</text>
<text x="403.40" y="449.70" font-size="10.2" font-weight="bold" text-anchor="end" fill="#111" stroke="#111" stroke-width="0.35" textLength="5.90" lengthAdjust="spacingAndGlyphs">0</text>
<text x="403.40" y="489.40" font-size="10.2" font-weight="bold" text-anchor="end" fill="#111" stroke="#111" stroke-width="0.35" textLength="9.43" lengthAdjust="spacingAndGlyphs">-5</text>
<text x="409.20" y="526.00" font-size="10.2" font-weight="bold" text-anchor="middle" fill="#111" stroke="#111" stroke-width="0.35" textLength="5.90" lengthAdjust="spacingAndGlyphs">0</text>
<text x="454.85" y="526.00" font-size="10.2" font-weight="bold" text-anchor="middle" fill="#111" stroke="#111" stroke-width="0.35" textLength="5.90" lengthAdjust="spacingAndGlyphs">5</text>
<text x="500.50" y="526.00" font-size="10.2" font-weight="bold" text-anchor="middle" fill="#111" stroke="#111" stroke-width="0.35" textLength="11.80" lengthAdjust="spacingAndGlyphs">10</text>
<text x="546.15" y="526.00" font-size="10.2" font-weight="bold" text-anchor="middle" fill="#111" stroke="#111" stroke-width="0.35" textLength="11.80" lengthAdjust="spacingAndGlyphs">15</text>
<text x="591.80" y="526.00" font-size="10.2" font-weight="bold" text-anchor="middle" fill="#111" stroke="#111" stroke-width="0.35" textLength="11.80" lengthAdjust="spacingAndGlyphs">20</text>
<text x="637.45" y="526.00" font-size="10.2" font-weight="bold" text-anchor="middle" fill="#111" stroke="#111" stroke-width="0.35" textLength="11.80" lengthAdjust="spacingAndGlyphs">25</text>
<text x="404.90" y="543.60" font-size="13.1" font-weight="bold" text-anchor="start" fill="#111" stroke="#111" stroke-width="0.25" textLength="280.00" lengthAdjust="spacingAndGlyphs">(SS-PA-MS + reference standard test)/2 (mg/L)</text>
<circle cx="469.30" cy="408.90" r="2.95" fill="#0000f2"/>
<circle cx="457.60" cy="419.80" r="2.95" fill="#0000f2"/>
<circle cx="492.50" cy="419.30" r="2.95" fill="#0000f2"/>
<circle cx="451.80" cy="429.70" r="2.95" fill="#0000f2"/>
<circle cx="478.10" cy="431.10" r="2.95" fill="#0000f2"/>
<circle cx="483.00" cy="432.50" r="2.95" fill="#0000f2"/>
<circle cx="489.40" cy="435.30" r="2.95" fill="#0000f2"/>
<circle cx="450.90" cy="442.30" r="2.95" fill="#0000f2"/>
<circle cx="472.90" cy="440.30" r="2.95" fill="#0000f2"/>
<circle cx="458.30" cy="445.40" r="2.95" fill="#0000f2"/>
<circle cx="484.10" cy="445.10" r="2.95" fill="#0000f2"/>
<circle cx="486.80" cy="443.30" r="2.95" fill="#0000f2"/>
<circle cx="496.10" cy="444.10" r="2.95" fill="#0000f2"/>
<circle cx="446.10" cy="448.80" r="2.95" fill="#0000f2"/>
<circle cx="444.10" cy="452.00" r="2.95" fill="#0000f2"/>
<circle cx="450.50" cy="453.10" r="2.95" fill="#0000f2"/>
<circle cx="453.70" cy="453.00" r="2.95" fill="#0000f2"/>
<circle cx="456.00" cy="453.00" r="2.95" fill="#0000f2"/>
<circle cx="453.90" cy="455.70" r="2.95" fill="#0000f2"/>
<circle cx="470.70" cy="449.10" r="2.95" fill="#0000f2"/>
<circle cx="467.00" cy="453.90" r="2.95" fill="#0000f2"/>
<circle cx="471.50" cy="455.80" r="2.95" fill="#0000f2"/>
<circle cx="481.70" cy="451.80" r="2.95" fill="#0000f2"/>
<circle cx="479.20" cy="455.80" r="2.95" fill="#0000f2"/>
<circle cx="483.40" cy="454.40" r="2.95" fill="#0000f2"/>
<circle cx="491.10" cy="449.00" r="2.95" fill="#0000f2"/>
<circle cx="491.60" cy="454.80" r="2.95" fill="#0000f2"/>
<circle cx="489.10" cy="458.30" r="2.95" fill="#0000f2"/>
<circle cx="495.50" cy="459.60" r="2.95" fill="#0000f2"/>
<circle cx="441.90" cy="459.50" r="2.95" fill="#0000f2"/>
<circle cx="449.30" cy="467.10" r="2.95" fill="#0000f2"/>
<circle cx="473.70" cy="470.90" r="2.95" fill="#0000f2"/>
<circle cx="491.20" cy="468.50" r="2.95" fill="#0000f2"/>
<circle cx="588.50" cy="407.60" r="2.95" fill="#0000f2"/>
<circle cx="566.40" cy="422.30" r="2.95" fill="#0000f2"/>
<circle cx="540.50" cy="430.60" r="2.95" fill="#0000f2"/>
<circle cx="557.80" cy="435.60" r="2.95" fill="#0000f2"/>
<circle cx="517.70" cy="440.00" r="2.95" fill="#0000f2"/>
<circle cx="517.30" cy="444.00" r="2.95" fill="#0000f2"/>
<circle cx="523.10" cy="444.00" r="2.95" fill="#0000f2"/>
<circle cx="523.10" cy="447.30" r="2.95" fill="#0000f2"/>
<circle cx="530.90" cy="442.80" r="2.95" fill="#0000f2"/>
<circle cx="531.90" cy="446.20" r="2.95" fill="#0000f2"/>
<circle cx="556.50" cy="442.60" r="2.95" fill="#0000f2"/>
<circle cx="581.00" cy="446.10" r="2.95" fill="#0000f2"/>
<circle cx="506.70" cy="448.50" r="2.95" fill="#0000f2"/>
<circle cx="506.70" cy="451.30" r="2.95" fill="#0000f2"/>
<circle cx="505.80" cy="454.90" r="2.95" fill="#0000f2"/>
<circle cx="507.60" cy="458.90" r="2.95" fill="#0000f2"/>
<circle cx="513.10" cy="456.40" r="2.95" fill="#0000f2"/>
<circle cx="511.30" cy="460.40" r="2.95" fill="#0000f2"/>
<circle cx="522.60" cy="458.70" r="2.95" fill="#0000f2"/>
<circle cx="533.20" cy="454.80" r="2.95" fill="#0000f2"/>
<circle cx="550.10" cy="457.20" r="2.95" fill="#0000f2"/>
<circle cx="550.50" cy="462.80" r="2.95" fill="#0000f2"/>
<circle cx="577.40" cy="458.60" r="2.95" fill="#0000f2"/>
<circle cx="528.70" cy="465.20" r="2.95" fill="#0000f2"/>
<circle cx="555.50" cy="469.90" r="2.95" fill="#0000f2"/>
<circle cx="532.10" cy="471.90" r="2.95" fill="#0000f2"/>
<circle cx="533.30" cy="473.40" r="2.95" fill="#0000f2"/>
<circle cx="543.50" cy="479.70" r="2.95" fill="#0000f2"/>
<circle cx="611.70" cy="440.20" r="2.95" fill="#0000f2"/>
<circle cx="612.90" cy="448.20" r="2.95" fill="#0000f2"/>
<circle cx="609.80" cy="460.10" r="2.95" fill="#0000f2"/>
<circle cx="629.90" cy="359.50" r="2.95" fill="#0000f2"/>
</svg>
</body></html>
